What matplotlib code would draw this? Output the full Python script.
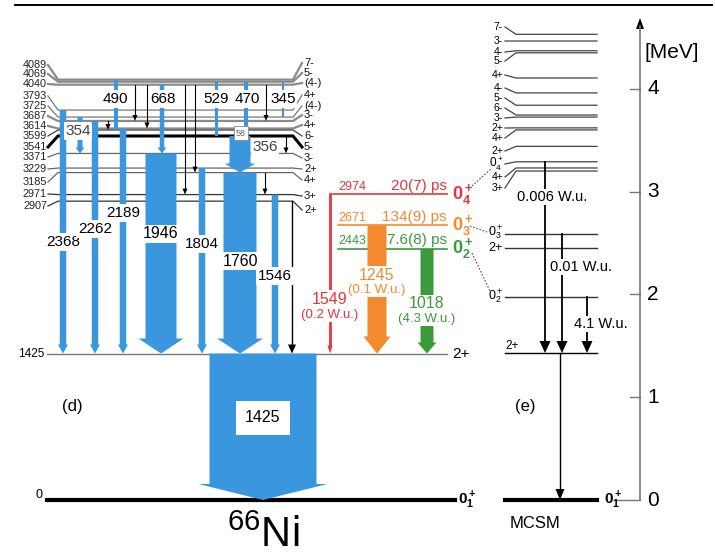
import matplotlib.pyplot as plt
from matplotlib.patches import Polygon

plt.rcParams['font.family'] = ['Liberation Sans', 'DejaVu Sans']
plt.rcParams['mathtext.fontset'] = 'custom'
plt.rcParams['mathtext.rm'] = 'Liberation Sans'
plt.rcParams['mathtext.it'] = 'Liberation Sans:italic'
plt.rcParams['mathtext.bf'] = 'Liberation Sans:bold'

# --- 66Ni level scheme data (keV) ---
levels = [4089, 4069, 4040, 3793, 3725, 3687, 3614, 3599, 3541, 3371, 3229, 3185, 2971, 2907]
spins = ['7-', '5-', '(4-)', '4+', '(4-)', '3-', '4+', '6-', '5-', '3-', '2+', '4+', '3+', '2+']
first_2plus = 1425

# gammas feeding the 2+ state
feed_gammas = [2368, 2262, 2189, 1946, 1804, 1760, 1546]
feed_from = [3793, 3687, 3614, 3371, 3229, 3185, 2971]

# gammas between the upper levels
upper_gammas = [490, 668, 529, 470, 345, 354, 356]
upper_from = [4089, 4040, 4069, 4069, 4069, 3725, 3541]
upper_to = [3599, 3371, 3541, 3599, 3725, 3371, 3185]

# weak unlabelled transitions
weak_from = [4040, 4040, 3687, 4040, 4040, 4040, 3541, 3185, 2907]
weak_to = [3687, 3614, 3599, 3185, 2971, 3687, 3371, 2971, 1425]

# excited 0+ states
zero_levels = [2974, 2671, 2443]
zero_lifetimes = ['20(7) ps', '134(9) ps', '7.6(8) ps']
zero_names = [r'$\mathbf{0^+_4}$', r'$\mathbf{0^+_3}$', r'$\mathbf{0^+_2}$']
zero_gammas = [1549, 1245, 1018]
zero_bwu = ['(0.2 W.u.)', '(0.1 W.u.)', '(4.3 W.u.)']

# shell-model (MCSM) levels
mcsm_levels = [4530, 4465, 4370, 4350, 4105, 3960, 3840, 3745, 3725, 3620, 3600, 3440,
               3290, 3230, 3200, 2590, 2450, 1975, 1430, 0]
mcsm_spins = ['7-', '3-', '4-', '5-', '4+', '4-', '5-', '6-', '3-', '2+', '4+', '2+',
              r'$0^+_4$', '4+', '3+', r'$0^+_3$', '2+', r'$0^+_2$', '2+', r'$\mathbf{0^+_1}$']
mcsm_from = [3290, 2590, 1975]
mcsm_bwu = ['0.006 W.u.', '0.01 W.u.', '4.1 W.u.']

energy_ticks = [0, 1, 2, 3, 4]

# --- colours ---
BLUE = '#3b97dd'
RED = '#e5353d'
ORANGE = '#f38a2e'
GREEN = '#3c9a3c'
zero_colors = [RED, ORANGE, GREEN]

PX = 1000 / 102.8   # keV per pixel row


def ky(py):
    """pixel row -> keV (used for label placement)"""
    return (500 - py) * PX


fig = plt.figure(figsize=(7.15, 5.58), dpi=100)
ax = fig.add_axes([0, 0, 1, 1])
ax.set_xlim(0, 715)
ax.set_ylim(ky(558), ky(0))
ax.axis('off')


def block_arrow(x, e_from, e_to, w, head_w, head_len, color, z=3):
    e_head = e_to + head_len * PX
    pts = [(x - w / 2, e_from), (x + w / 2, e_from), (x + w / 2, e_head),
           (x + head_w / 2, e_head), (x, e_to), (x - head_w / 2, e_head),
           (x - w / 2, e_head)]
    ax.add_patch(Polygon(pts, closed=True, fc=color, ec='none', zorder=z))


def line_arrow(x, e_from, e_to, color='black', lw=0.8, head_w=5, head_len=6, z=4):
    e_head = e_to + head_len * PX
    ax.plot([x, x], [e_from, e_head], color=color, lw=lw, zorder=z)
    ax.add_patch(Polygon([(x - head_w / 2, e_head), (x + head_w / 2, e_head), (x, e_to)],
                         closed=True, fc=color, ec='none', zorder=z))


def boxed(x, e, s, size=11, color='black', **kw):
    ax.text(x, e, s, ha='center', va='center', fontsize=size, color=color, zorder=6,
            bbox=dict(boxstyle='square,pad=0.1', fc='white', ec='none'), **kw)


# rule at the top
ax.plot([15, 712], [ky(4.5), ky(4.5)], color='black', lw=1.4)

# ---------------- experimental scheme (d) ----------------
lbl_left_y = [65, 74, 84, 96, 106, 116, 126, 136, 147, 157, 169, 182, 194, 206]
lbl_right_y = [63, 73, 83, 95, 106, 115, 125, 136, 147, 158, 169, 180, 196, 210]
lvl_color = ['#8a8a8a', '#8a8a8a', '#8a8a8a', '#777', '#777', '#8a8a8a', '#8a8a8a',
             '#444', 'black', '#666', '#666', '#666', '#333', '#333']
lvl_lw = [1.6, 1.6, 1.6, 0.9, 0.9, 1.6, 1.6, 0.9, 2.2, 0.9, 0.9, 0.9, 0.9, 0.9]
x0, x1 = 58, 293
for e, sp, yl, yr, c, lw in zip(levels, spins, lbl_left_y, lbl_right_y, lvl_color, lvl_lw):
    ax.plot([48, x0, x1, 302], [ky(yl), e, e, ky(yr)], color=c, lw=lw, zorder=2,
            solid_joinstyle='round')
    ax.text(47, ky(yl), str(e), ha='right', va='center', fontsize=7.8, color='#222')
    ax.text(304, ky(yr), sp, ha='left', va='center', fontsize=8, color='#111')

# 2+ state and ground state
ax.plot([47, 447], [first_2plus, first_2plus], color='#777', lw=1.0, zorder=2)
ax.text(44, first_2plus, str(first_2plus), ha='right', va='center', fontsize=8.5)
ax.text(452, first_2plus, '2+', ha='left', va='center', fontsize=11)
ax.plot([47, 455], [0, 0], color='black', lw=3.0, zorder=2)
ax.text(42, ky(495), '0', ha='right', va='center', fontsize=9)
ax.text(458, 0, r'$\mathbf{0^+_1}$', ha='left', va='center', fontsize=11)

# strong gammas to the 2+ state
feed_x = [63, 95, 123, 161, 202, 240, 275]
feed_w = [6.5, 6.5, 6.5, 31, 6.5, 33, 6.5]
feed_hw = [10, 10, 10, 45, 10, 46, 10]
feed_hl = [9, 9, 9, 15, 9, 15, 9]
feed_lbl_y = [242, 229, 213, 234, 244, 261, 276]
for g, ef, x, w, hw, hl, ly in zip(feed_gammas, feed_from, feed_x, feed_w, feed_hw,
                                   feed_hl, feed_lbl_y):
    block_arrow(x, ef, first_2plus, w, hw, hl, BLUE)
    boxed(x, ky(ly), str(g), size=11.5 if w > 20 else 11)

# 2+ -> 0+ transition
block_arrow(263, first_2plus, 0, 107, 129, 16, BLUE)
ax.text(263, ky(418), str(first_2plus), ha='center', va='center', fontsize=11.5, zorder=6,
        bbox=dict(boxstyle='square,pad=0.6', fc='white', ec='none'))

# transitions among the upper levels
up_x = [116, 162, 216, 246, 283, 80, 240]
up_w = [4, 4.5, 3, 4.5, 2.5, 5, 21]
up_hw = [4, 9, 3, 4.5, 2.5, 9, 31]
up_hl = [0, 6, 0, 0, 0, 6, 9]
up_color = [BLUE, BLUE, BLUE, BLUE, '#4a8fc8', BLUE, BLUE]
up_lbl = [(115, 99), (163, 99), (216, 99), (247, 99), (283, 99), (78, 131), (265, 147)]
up_lbl_color = ['black', 'black', 'black', 'black', 'black', '#444', '#444']
for g, ef, et, x, w, hw, hl, c, (lx, ly), lc in zip(upper_gammas, upper_from, upper_to,
                                                    up_x, up_w, up_hw, up_hl, up_color,
                                                    up_lbl, up_lbl_color):
    block_arrow(x, ef, et, w, hw, hl, c)
    boxed(lx, ky(ly), str(g), size=11, color=lc)

# 3599 -> 3541 (58 keV)
ax.text(241, (3599 + 3541) / 2, '58', ha='center', va='center', fontsize=6.5, color='#666',
        zorder=6, bbox=dict(boxstyle='square,pad=0.25', fc='white', ec='#888', lw=0.6))

weak_x = [135, 147, 108, 195, 185, 266, 286, 265, 292]
for ef, et, x in zip(weak_from, weak_to, weak_x):
    big = et == first_2plus
    line_arrow(x, ef, et, lw=1.0 if big else 0.8, head_w=8 if big else 5,
               head_len=9 if big else 6)

# 0+ states
zero_w = [0, 19, 13]
zero_hw = [0, 27, 19]
zero_hl = [0, 17, 11]
zero_x = [330, 377, 427]
zero_lbl_y = [(299, 315), (275, 290), (304, 319)]
for e, life, name, g, bwu, c, w, hw, hl, x, (ly1, ly2) in zip(
        zero_levels, zero_lifetimes, zero_names, zero_gammas, zero_bwu, zero_colors,
        zero_w, zero_hw, zero_hl, zero_x, zero_lbl_y):
    xs = 333 if e == zero_levels[0] else 338
    ax.plot([xs, 447], [e, e], color=c, lw=1.2, zorder=2)
    ax.text(352, e + 1.5 * PX, str(e), ha='center', va='bottom', fontsize=9, color=c)
    ax.text(447, e + 1.5 * PX, life, ha='right', va='bottom', fontsize=11, color=c)
    ax.text(452, e, name, ha='left', va='center', fontsize=13, color=c)
    if w == 0:
        line_arrow(x, e, first_2plus, color=c, lw=2.0, head_w=5, head_len=8)
    else:
        block_arrow(x, e, first_2plus, w, hw, hl, c)
    boxed(x, ky(ly1), str(g), size=11.5, color=c)
    boxed(x, ky(ly2), bwu, size=9.5, color=c)

ax.text(72, ky(407), '(d)', ha='center', va='center', fontsize=12)
ax.text(263, ky(536), r'$^{66}$Ni', ha='center', va='center', fontsize=30)

# ---------------- MCSM scheme (e) ----------------
m_lbl_y = [27, 41, 52, 61, 75, 88, 98, 108, 118, 128, 138, 151, 164, 177, 188,
           233, 248, 297, 347, 500]
mx0, mx1 = 516, 597
for i, (e, sp, yl) in enumerate(zip(mcsm_levels, mcsm_spins, m_lbl_y)):
    if e == 0:
        ax.plot([505, 597], [0, 0], color='black', lw=3.0, zorder=2)
        ax.plot([617, 640], [0, 0], color='#777', lw=1.0)
        ax.text(604, 0, sp, ha='left', va='center', fontsize=11)
    elif e == 1430:
        ax.plot([505, 597], [e, e], color='black', lw=1.0, zorder=2)
        ax.text(505, e + 1 * PX, sp, ha='left', va='bottom', fontsize=8.5)
    elif i >= 15:
        ax.plot([505, 597], [e, e], color='#333', lw=1.0, zorder=2)
        ax.text(503, ky(yl), sp, ha='right', va='center', fontsize=9)
    else:
        ax.plot([505, mx0, mx1], [ky(yl), e, e], color='#444', lw=0.9, zorder=2)
        ax.text(503, ky(yl), sp, ha='right', va='center', fontsize=7.5 if '$' not in sp else 8.5)

mcsm_x = [545, 562, 587]
mcsm_lbl = [(552, 197), (581, 267), (601, 324)]
for ef, s, x, (lx, ly) in zip(mcsm_from, mcsm_bwu, mcsm_x, mcsm_lbl):
    line_arrow(x, ef, mcsm_levels[-2], lw=1.3, head_w=11, head_len=12)
    boxed(lx, ky(ly), s, size=10.5)
line_arrow(560, mcsm_levels[-2], 0, lw=1.0, head_w=9, head_len=11)

# dotted links between experimental and MCSM 0+ states
ax.plot([472, 492], [ky(186), ky(168)], color='#555', lw=0.8, ls=(0, (1.5, 1.5)))
ax.plot([470, 487], [ky(226), ky(232)], color='#555', lw=0.8, ls=(0, (1.5, 1.5)))
ax.plot([472, 490], [ky(253), ky(291)], color='#555', lw=0.8, ls=(0, (1.5, 1.5)))

ax.text(525, ky(407), '(e)', ha='center', va='center', fontsize=12)
ax.text(535, ky(523), 'MCSM', ha='center', va='center', fontsize=12)

# energy axis in MeV
ax.plot([640, 640], [0, ky(26)], color='#777', lw=1.2)
ax.add_patch(Polygon([(636, ky(29)), (644, ky(29)), (640, ky(18))], closed=True,
                     fc='black', ec='none'))
for t in energy_ticks:
    if t > 0:
        ax.plot([630, 640], [t * 1000, t * 1000], color='#777', lw=1.0)
    ax.text(647, t * 1000, str(t), ha='left', va='center', fontsize=15)
ax.text(644, ky(53), '[MeV]', ha='left', va='center', fontsize=15)

fig.savefig('out.png', dpi=100)
